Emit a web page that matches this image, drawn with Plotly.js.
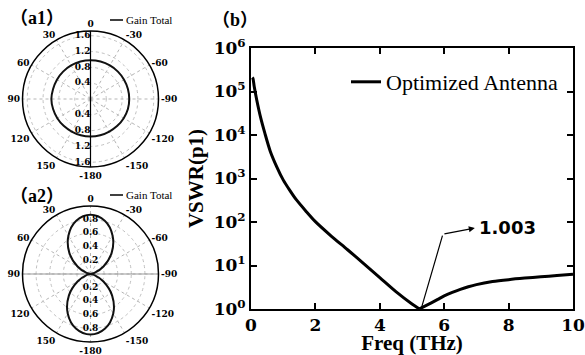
<!DOCTYPE html>
<html>
<head>
<meta charset="utf-8">
<script src="https://cdn.plot.ly/plotly-3.0.1.min.js"></script>
<style>html,body{margin:0;padding:0;background:#fff;}#chart{width:585px;height:355px;}</style>
</head>
<body>
<div id="chart"></div>
<script>
// ---- Panel (b): VSWR vs frequency (falling branch, then rising branch) ----
const freqFall = [0.04, 0.06, 0.1, 0.18, 0.3, 0.43, 0.6, 0.8, 1.0, 1.2, 1.4, 1.7, 2.0, 2.5, 3.0, 3.5, 4.0, 4.5, 5.0, 5.23];
const vswrFall = [210000, 200000, 130000, 63000, 25000, 11000, 4200, 1860, 930, 540, 330, 180, 102, 47, 23, 11, 5.25, 2.5, 1.3, 1.003];
const freqRise = [5.23, 5.4, 5.6, 5.8, 6.0, 6.25, 6.5, 6.75, 7.0, 7.5, 8.0, 8.5, 9.0, 9.5, 10.0];
const vswrRise = [1.003, 1.16, 1.38, 1.66, 2.0, 2.4, 2.82, 3.24, 3.63, 4.27, 4.73, 5.13, 5.5, 5.89, 6.31];
const seriesName = 'Optimized Antenna';
const xTicks = [0, 2, 4, 6, 8, 10];
const xMinorTicks = [1, 3, 5, 7, 9];
const yTickVals = [1, 10, 100, 1000, 10000, 100000, 1000000];
const yTickText = ['10<sup>0</sup>', '10<sup>1</sup>', '10<sup>2</sup>', '10<sup>3</sup>', '10<sup>4</sup>', '10<sup>5</sup>', '10<sup>6</sup>'];
const minLabel = '1.003';
const minFreq = 5.23;
const minVswr = 1.003;

// ---- Panel (a1): gain total (angles in degrees, gain) ----
const a1Theta = [0, 15, 30, 45, 60, 75, 90, 105, 120, 135, 150, 165, 180, 195, 210, 225, 240, 255, 270, 285, 300, 315, 330, 345, 360];
const a1Gain  = [0.98, 0.98, 0.98, 0.98, 0.98, 0.98, 0.99, 0.98, 0.97, 0.96, 0.95, 0.95, 0.95, 0.95, 0.95, 0.96, 0.97, 0.98, 0.98, 0.98, 0.98, 0.98, 0.98, 0.98, 0.98];
const a1RadialLabels = [0.4, 0.8, 1.2, 1.6];

// ---- Panel (a2): gain total ----
const a2Theta = [0, 15, 30, 45, 60, 75, 90, 105, 120, 135, 150, 165, 180, 195, 210, 225, 240, 255, 270, 285, 300, 315, 330, 345, 360];
const a2Gain  = [0.87, 0.81, 0.65, 0.44, 0.22, 0.06, 0.0, 0.06, 0.22, 0.45, 0.67, 0.83, 0.89, 0.83, 0.67, 0.45, 0.22, 0.06, 0.0, 0.06, 0.22, 0.44, 0.65, 0.81, 0.87];
const a2RadialLabels = [0.2, 0.4, 0.6, 0.8];

const angTickVals = [0, 30, 60, 90, 120, 150, 180, 210, 240, 270, 300, 330];
const angTickText = ['0', '30', '60', '90', '120', '150', '-180', '-150', '-120', '-90', '-60', '-30'];
const legendText = 'Gain Total';

// minor tick positions of the log axis (2..9 in each decade)
const yMinorVals = [];
for (let p = 0; p < 6; p++) for (let d = 2; d <= 9; d++) yMinorVals.push(d * Math.pow(10, p));

const a1Max = 1.72, a2Max = 1.0;
const serif = 'Liberation Serif, Times New Roman, serif';
const serifW = 'DejaVu Serif, serif';
const yDom = [1 - 309/355, 1 - 48/355];
const xDom = [251/585, 573/585];

const traces = [
  {type: 'scatter', mode: 'lines', x: freqFall, y: vswrFall, name: seriesName, legendgroup: 'v',
   line: {color: '#000', width: 3, shape: 'spline', smoothing: 0.8}, showlegend: true},
  {type: 'scatter', mode: 'lines', x: freqRise, y: vswrRise, name: seriesName, legendgroup: 'v',
   line: {color: '#000', width: 3, shape: 'spline', smoothing: 0.8}, showlegend: false},
  // a1
  {type: 'scatterpolar', subplot: 'polar', mode: 'lines', r: a1Gain, theta: a1Theta,
   line: {color: '#111', width: 2, shape: 'spline'}, showlegend: false},
  {type: 'scatterpolar', subplot: 'polar', mode: 'lines', r: [a1Max, 0, a1Max], theta: [0, 0, 180],
   line: {color: '#000', width: 1.2}, showlegend: false},
  {type: 'scatterpolar', subplot: 'polar', mode: 'text',
   r: a1RadialLabels.concat(a1RadialLabels), theta: a1RadialLabels.map(() => 0).concat(a1RadialLabels.map(() => 180)),
   text: a1RadialLabels.concat(a1RadialLabels).map(v => v.toFixed(1)), textposition: 'middle left',
   textfont: {family: serifW, size: 9, color: '#000', weight: 'bold'}, showlegend: false},
  // a2
  {type: 'scatterpolar', subplot: 'polar2', mode: 'lines', r: [a2Max, 0, a2Max], theta: [90, 90, 270],
   line: {color: '#999', width: 1}, showlegend: false},
  {type: 'scatterpolar', subplot: 'polar2', mode: 'lines', r: a2Gain, theta: a2Theta,
   line: {color: '#111', width: 2, shape: 'spline'}, showlegend: false},
  {type: 'scatterpolar', subplot: 'polar2', mode: 'text',
   r: a2RadialLabels.concat(a2RadialLabels), theta: a2RadialLabels.map(() => 0).concat(a2RadialLabels.map(() => 180)),
   text: a2RadialLabels.concat(a2RadialLabels).map(v => v.toFixed(1)), textposition: 'middle center',
   textfont: {family: serifW, size: 9, color: '#000', weight: 'bold'}, showlegend: false}
];

function polarCfg(domY, rmax, dtick) {
  return {
    domain: {x: [22.5/585, 158.5/585], y: domY},
    bgcolor: '#fff',
    angularaxis: {rotation: 90, direction: 'counterclockwise', tickmode: 'array',
      tickvals: angTickVals, ticktext: angTickText, ticks: '',
      showline: true, linecolor: '#000', linewidth: 1.5,
      showgrid: true, gridcolor: '#b5b5b5', griddash: 'dot', gridwidth: 1,
      tickfont: {family: serifW, size: 9, color: '#000', weight: 'bold'}},
    radialaxis: {range: [0, rmax], showticklabels: false, ticks: '', showline: false,
      dtick: dtick, tick0: 0, showgrid: true, gridcolor: '#c0c0c0', griddash: 'dot', gridwidth: 1}
  };
}

const layout = {
  width: 585, height: 355,
  margin: {l: 0, r: 0, t: 0, b: 0},
  paper_bgcolor: '#fff', plot_bgcolor: '#fff',
  font: {family: serif, color: '#000'},
  xaxis: {domain: xDom, range: [0, 10], tickmode: 'array', tickvals: xTicks,
    ticks: 'inside', ticklen: 6, tickwidth: 2, tickcolor: '#000',
    showline: true, linecolor: '#000', linewidth: 2, mirror: 'ticks',
    showgrid: false, zeroline: false,
    tickfont: {family: serifW, size: 17, color: '#000', weight: 'bold'},
    title: {text: '<b>Freq (THz)</b>', font: {family: serif, size: 21, color: '#000'}, standoff: 3}},
  yaxis: {domain: yDom, type: 'log', range: [0, 6], tickmode: 'array',
    tickvals: yTickVals, ticktext: yTickText,
    ticks: 'inside', ticklen: 6, tickwidth: 2, tickcolor: '#000',
    showline: true, linecolor: '#000', linewidth: 2, mirror: 'ticks',
    showgrid: false, zeroline: false,
    tickfont: {family: serifW, size: 17, color: '#000', weight: 'bold'},
    title: {text: '<b>VSWR(p1)</b>', font: {family: serif, size: 21, color: '#000'}, standoff: 4}},
  // overlay axes that only carry the minor ticks
  xaxis2: {domain: xDom, overlaying: 'x', anchor: 'y', side: 'bottom', range: [0, 10], tickmode: 'array',
    tickvals: xMinorTicks, ticks: 'inside', ticklen: 3.5, tickwidth: 1.5, tickcolor: '#000',
    showticklabels: false, showline: false, mirror: 'ticks', showgrid: false, zeroline: false},
  yaxis2: {domain: yDom, overlaying: 'y', anchor: 'x', side: 'left', type: 'log', range: [0, 6], tickmode: 'array',
    tickvals: yMinorVals, ticks: 'inside', ticklen: 3, tickwidth: 1, tickcolor: '#000',
    showticklabels: false, showline: false, mirror: 'ticks', showgrid: false, zeroline: false},
  polar: polarCfg([1 - 167/355, 1 - 31/355], a1Max, 0.4),
  polar2: polarCfg([1 - 342/355, 1 - 206/355], a2Max, 0.2),
  showlegend: true,
  legend: {x: 346/585, y: 1 - 82/355, xanchor: 'left', yanchor: 'middle',
    bgcolor: 'rgba(0,0,0,0)', borderwidth: 0,
    font: {family: serif, size: 22, color: '#000'}},
  shapes: [
    {type: 'line', xref: 'paper', yref: 'paper', x0: 110/585, x1: 123/585, y0: 1 - 20/355, y1: 1 - 20/355,
     line: {color: '#000', width: 1.5}},
    {type: 'line', xref: 'paper', yref: 'paper', x0: 110/585, x1: 123/585, y0: 1 - 195/355, y1: 1 - 195/355,
     line: {color: '#000', width: 1.5}}
  ],
  annotations: [
    {xref: 'x', yref: 'y', x: minFreq + 0.07, y: Math.log10(minVswr) + 0.04, text: '',
     axref: 'x', ayref: 'y', ax: 5.96, ay: 1.72, showarrow: true, arrowhead: 0, arrowwidth: 1.2, arrowcolor: '#000'},
    {xref: 'x', yref: 'y', x: 6.95, y: 1.86, text: '', axref: 'x', ayref: 'y', ax: 5.96, ay: 1.72,
     showarrow: true, arrowhead: 2, arrowsize: 1, arrowwidth: 1.2, arrowcolor: '#000'},
    {xref: 'x', yref: 'y', x: 7.03, y: 1.88, text: '<b>' + minLabel + '</b>', showarrow: false,
     xanchor: 'left', yanchor: 'middle', font: {family: 'DejaVu Sans, sans-serif', size: 18, color: '#000'}},
    {xref: 'paper', yref: 'paper', x: 8/585, y: 1 - 18/355, xanchor: 'left', yanchor: 'middle', showarrow: false,
     text: '<b>（a1）</b>', font: {family: serif + ', Noto Sans CJK SC', size: 18, color: '#000'}},
    {xref: 'paper', yref: 'paper', x: 8/585, y: 1 - 196/355, xanchor: 'left', yanchor: 'middle', showarrow: false,
     text: '<b>（a2）</b>', font: {family: serif + ', Noto Sans CJK SC', size: 18, color: '#000'}},
    {xref: 'paper', yref: 'paper', x: 210/585, y: 1 - 20/355, xanchor: 'left', yanchor: 'middle', showarrow: false,
     text: '<b>（b）</b>', font: {family: serif + ', Noto Sans CJK SC', size: 18, color: '#000'}},
    {xref: 'paper', yref: 'paper', x: 124/585, y: 1 - 20/355, xanchor: 'left', yanchor: 'middle', showarrow: false,
     text: legendText, font: {family: serif, size: 11, color: '#000'}},
    {xref: 'paper', yref: 'paper', x: 124/585, y: 1 - 195/355, xanchor: 'left', yanchor: 'middle', showarrow: false,
     text: legendText, font: {family: serif, size: 11, color: '#000'}}
  ]
};

Plotly.newPlot('chart', traces, layout, {staticPlot: true, displayModeBar: false});
</script>
</body>
</html>
